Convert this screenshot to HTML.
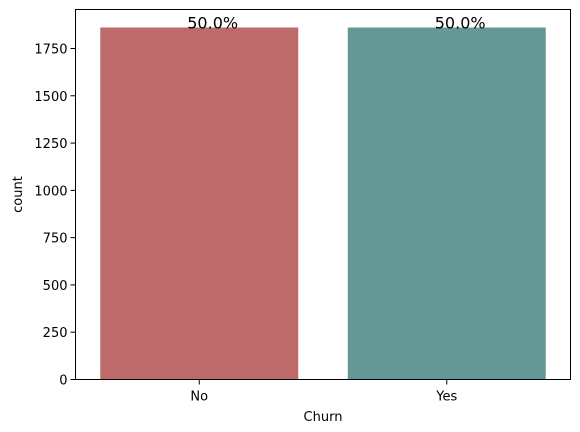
<!DOCTYPE html>
<html><head><meta charset="utf-8"><style>
body{margin:0;background:#fff;}
svg{display:block;font-family:"DejaVu Sans","Liberation Sans",sans-serif;}
</style></head><body>
<svg id="chart" width="580" height="432"></svg>
<script>
const categories=["No","Yes"];
const counts=[1861,1861];
const pctLabels=["50.0%","50.0%"];
const colors=["#bf6a6a","#659797"];
const yTicks=[0,250,500,750,1000,1250,1500,1750];
const NS="http://www.w3.org/2000/svg";
const svg=document.getElementById('chart');
const L=75.5,R=570.5,T=9.5,B=379.5;
const yScale=v=>B-v*(331/1750);
const band=(R-L)/categories.length;
const xCenter=i=>L+band*(i+0.5);
function mk(t,a){const e=document.createElementNS(NS,t);for(const k in a)e.setAttribute(k,a[k]);svg.appendChild(e);return e;}
categories.forEach((c,i)=>{
  const w=band*0.8,x=xCenter(i)-w/2,y=yScale(counts[i]);
  const r=mk('rect',{x:x,y:y,width:w,height:B-y,fill:colors[i]});
  
  
  const t=mk('text',{x:xCenter(i)-12,y:y+1,'font-size':16,fill:'#000'});
  t.textContent=pctLabels[i];
  
  
  const tk=mk('line',{x1:xCenter(i),x2:xCenter(i),y1:B,y2:B+5,stroke:'#000'});
  const tl=mk('text',{x:xCenter(i),y:B+21,'font-size':13,'text-anchor':'middle'});
  tl.textContent=c;
  
  
});
yTicks.forEach(v=>{
  const y=yScale(v);
  mk('line',{x1:L-5,x2:L,y1:y,y2:y,stroke:'#000'});
  const t=mk('text',{x:L-8,y:y+5,'font-size':13,'text-anchor':'end'});
  t.textContent=v;
  
  
});
const fr=mk('rect',{x:L,y:T,width:R-L,height:B-T,fill:'none',stroke:'#000','stroke-width':1});


const xt=mk('text',{x:(L+R)/2,y:421,'font-size':13,'text-anchor':'middle'});
xt.textContent='Churn';


const yt=mk('text',{x:0,y:0,'font-size':13,'text-anchor':'middle',transform:`translate(22,${(T+B)/2}) rotate(-90)`});
yt.textContent='count';


</script>
</body></html>
